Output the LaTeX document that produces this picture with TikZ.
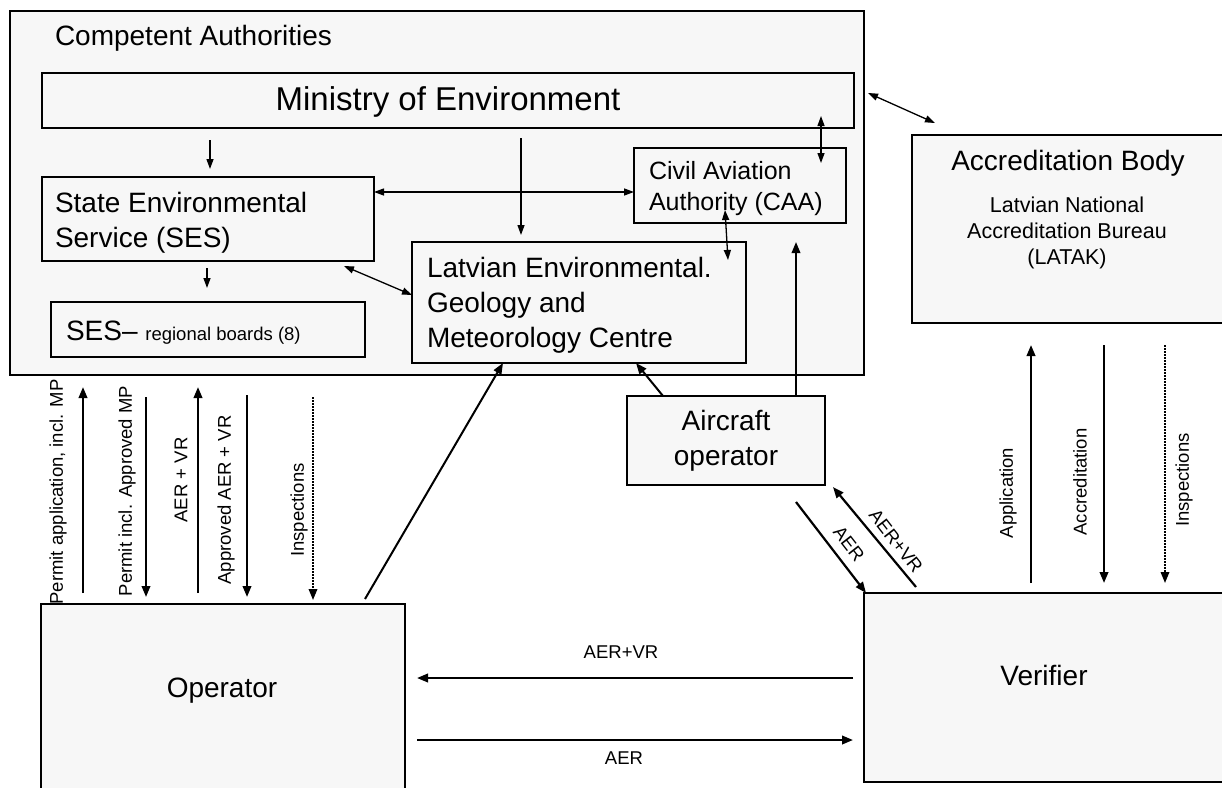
\documentclass[tikz,border=0pt]{standalone}
\usepackage{fontspec}
\setmainfont{Liberation Sans}
\usetikzlibrary{arrows.meta}
\definecolor{boxfill}{HTML}{F7F7F7}
\begin{document}
\begin{tikzpicture}[x=1pt,y=-1pt,
  box/.style={draw=black, line width=1.5pt, fill=boxfill, inner sep=0pt, outer sep=0pt, anchor=north west},
  txt/.style={inner sep=0pt, outer sep=0pt, font=\fontsize{28}{34}\selectfont},
  mid/.style={txt, font=\fontsize{25}{30}\selectfont},
  small/.style={txt, font=\fontsize{21.5}{26}\selectfont},
  lbl/.style={inner sep=0pt, outer sep=0pt, font=\fontsize{18.5}{22}\selectfont},
  arr/.style={line width=1.3pt, -{Triangle[length=10pt,width=7pt]}},
  darr/.style={line width=1.3pt, {Triangle[length=10pt,width=7pt]}-{Triangle[length=10pt,width=7pt]}},
  flow/.style={line width=2.2pt, -{Triangle[length=11pt,width=8.5pt]}},
  dotflow/.style={line width=1.8pt, dash pattern=on 1.6pt off 1.4pt, -{Triangle[length=11pt,width=8.5pt]}},
  link/.style={line width=2pt, -{Triangle[length=11pt,width=8.5pt]}}
]
\fill[white] (0,0) rectangle (1222,787);
\useasboundingbox (0,0) rectangle (1222,787);

% boxes
\node[box, minimum width=854pt, minimum height=364pt] (ca) at (10,11) {};
\node[box, minimum width=812pt, minimum height=55pt] (min) at (42,73) {};
\node[box, minimum width=332pt, minimum height=84pt] (ses) at (42,177) {};
\node[box, minimum width=314pt, minimum height=55pt] (reg) at (51,302) {};
\node[box, minimum width=334pt, minimum height=121pt] (legmc) at (412,242) {};
\node[box, minimum width=212pt, minimum height=75pt] (caa) at (634,148) {};
\node[box, minimum width=198pt, minimum height=89pt] (ac) at (627,396) {};
\node[box, minimum width=312pt, minimum height=188pt] (ab) at (912,135) {};
\node[box, minimum width=360pt, minimum height=189pt] (ver) at (864,593) {};
\node[box, minimum width=364pt, minimum height=200pt] (op) at (41,604) {};

% texts
\node[txt, anchor=base west] (catitle) at (55,45) {Competent Authorities};
\node[txt, font=\fontsize{33}{40}\selectfont, anchor=base] (mintxt) at (448,110) {Ministry of Environment};
\node[txt, anchor=base west] (ses1) at (55,212) {State Environmental};
\node[txt, anchor=base west] (ses2) at (55,247) {Service (SES)};
\node[txt, anchor=base west] (regtxt) at (66,340) {SES–\ {\fontsize{18.5}{22}\selectfont regional boards (8)}};
\node[txt, anchor=base west] (leg1) at (427,277) {Latvian Environmental.};
\node[txt, anchor=base west] (leg2) at (427,312) {Geology and};
\node[txt, anchor=base west] (leg3) at (427,347) {Meteorology Centre};
\node[mid, anchor=base west] (caa1) at (649,179) {Civil Aviation};
\node[mid, anchor=base west] (caa2) at (649,210) {Authority (CAA)};
\node[txt, anchor=base] (ac1) at (726,430) {Aircraft};
\node[txt, anchor=base] (ac2) at (726,465) {operator};
\node[txt, anchor=base] (ab1) at (1068,170) {Accreditation Body};
\node[small, anchor=base] (ab2) at (1067,212) {Latvian National};
\node[small, anchor=base] (ab3) at (1067,238) {Accreditation Bureau};
\node[small, anchor=base] (ab4) at (1067,264) {(LATAK)};
\node[txt, anchor=base] (optxt) at (222,697) {Operator};
\node[txt, anchor=base] (vertxt) at (1044,685) {Verifier};

% guide coordinates
\coordinate (x210) at (210,0);
\coordinate (x207) at (207,0);
\coordinate (x521) at (521,0);
\coordinate (x821) at (821,0);
\coordinate (x725) at (725,0);
\coordinate (x728) at (728,0);
\coordinate (x344) at (344,0);
\coordinate (x796) at (796,0);
\coordinate (x663) at (663,0);
\coordinate (x636) at (636,0);
\coordinate (x365) at (365,0);
\coordinate (x503) at (503,0);
\coordinate (x83) at (83,0);
\coordinate (x146) at (146,0);
\coordinate (x198) at (198,0);
\coordinate (x247) at (247,0);
\coordinate (x313) at (313,0);
\coordinate (x1031) at (1031,0);
\coordinate (x1104) at (1104,0);
\coordinate (x1165) at (1165,0);
\coordinate (x916) at (916,0);
\coordinate (y192) at (0,192);
\coordinate (y295) at (0,295);
\coordinate (y678) at (0,678);
\coordinate (y740) at (0,740);

% internal connectors
\draw[arr] ([yshift=-12pt]min.south -| x210) -- ([yshift=8pt]ses.north -| x210);
\draw[arr] ([yshift=-7pt]ses.south -| x207) -- ([yshift=14pt]reg.north -| x207);
\draw[arr] ([yshift=-10pt]min.south -| x521) -- ([yshift=7pt]legmc.north -| x521);
\draw[darr] (y192 -| ses.east) -- (y192 -| caa.west);
\draw[darr] ([yshift=12pt]min.south -| x821) -- ([yshift=-15pt]caa.north -| x821);
\draw[darr] ([yshift=13pt]caa.south -| x725) -- ([yshift=-18pt]legmc.north -| x728);
\draw[darr] ([yshift=-5pt]ses.south -| x344) -- (y295 -| legmc.west);
\draw[darr] ([xshift=14pt,yshift=-20pt]min.north east) -- ([xshift=23pt,yshift=12pt]ab.north west);

% aircraft operator links
\draw[link] (ac.north -| x796) -- ([yshift=-19pt]caa.south -| x796);
\draw[link] (ac.north -| x663) -- (legmc.south -| x636);
\draw[link] ([yshift=5pt]op.north -| x365) -- (legmc.south -| x503);

% operator <-> competent authorities
\draw[flow] ([yshift=11pt]op.north -| x83) -- ([yshift=-12pt]ca.south -| x83);
\draw[flow] ([yshift=-22pt]ca.south -| x146) -- ([yshift=7pt]op.north -| x146);
\draw[flow] ([yshift=11pt]op.north -| x198) -- ([yshift=-12pt]ca.south -| x198);
\draw[flow] ([yshift=-20pt]ca.south -| x247) -- ([yshift=7pt]op.north -| x247);
\draw[dotflow] ([yshift=-22pt]ca.south -| x313) -- ([yshift=4pt]op.north -| x313);
\node[lbl, rotate=90] (l1) at (58,492) {Permit application, incl. MP};
\node[lbl, rotate=90] (l2) at (127,491) {Permit incl. Approved MP};
\node[lbl, rotate=90] (l3) at (181,480) {AER + VR};
\node[lbl, rotate=90] (l4) at (226,500) {Approved AER + VR};
\node[lbl, rotate=90] (l5) at (299,510) {Inspections};

% accreditation body <-> verifier
\draw[flow] ([yshift=10pt]ver.north -| x1031) -- ([yshift=-22pt]ab.south -| x1031);
\draw[flow] ([yshift=-22pt]ab.south -| x1104) -- ([yshift=10pt]ver.north -| x1104);
\draw[dotflow] ([yshift=-22pt]ab.south -| x1165) -- ([yshift=10pt]ver.north -| x1165);
\node[lbl, rotate=90] (r1) at (1008,493) {Application};
\node[lbl, rotate=90] (r2) at (1080,482) {Accreditation};
\node[lbl, rotate=90] (r3) at (1184,480) {Inspections};

% operator <-> verifier
\draw[flow] ([xshift=-11pt]y678 -| ver.west) -- ([xshift=12pt]y678 -| op.east);
\draw[flow] ([xshift=12pt]y740 -| op.east) -- ([xshift=-11pt]y740 -| ver.west);
\node[lbl] (b1) at (621,652) {AER+VR};
\node[lbl] (b2) at (624,758) {AER};

% aircraft operator <-> verifier
\draw[flow] ([yshift=-17pt]ac.south -| x796) -- ([xshift=2pt]ver.north west);
\draw[flow] ([yshift=6pt]ver.north -| x916) -- ([xshift=8pt,yshift=-2pt]ac.south east);
\node[lbl, rotate=-52] (d1) at (849,544) {AER};
\node[lbl, rotate=-52] (d2) at (896,541) {AER+VR};
\end{tikzpicture}
\end{document}
